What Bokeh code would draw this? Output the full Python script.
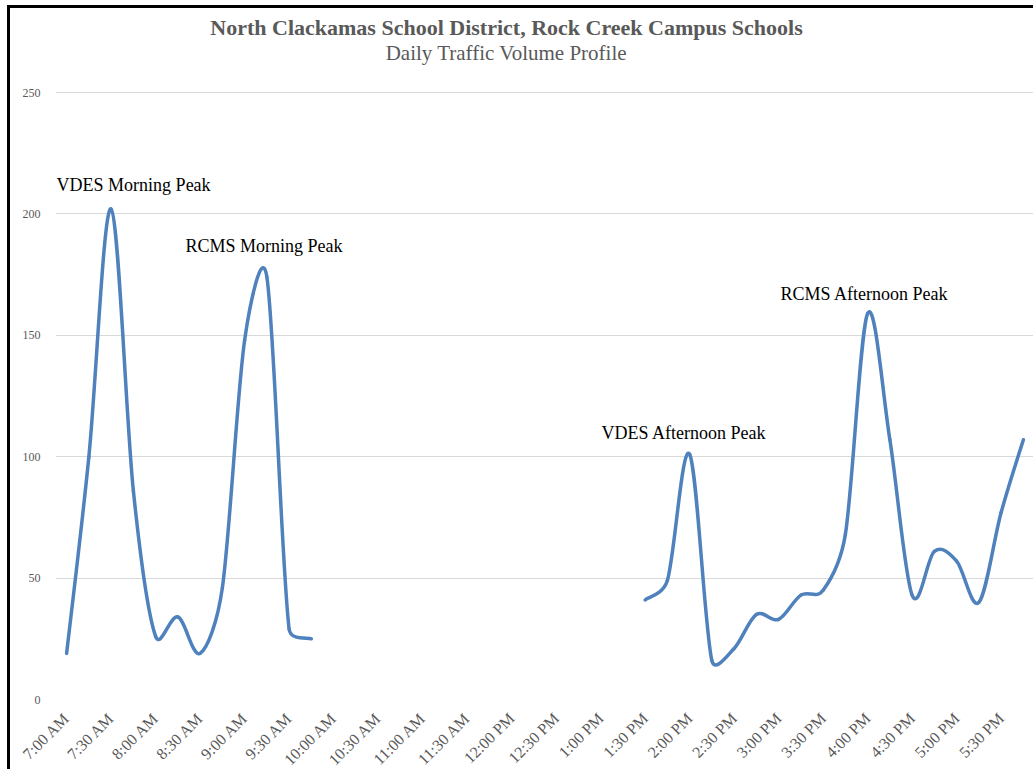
import math
from bokeh.plotting import figure
from bokeh.models import Range1d, FixedTicker, Label
from bokeh.embed import file_html
from bokeh.resources import INLINE

# ---------------- data ----------------
times = [
    "7:00 AM", "7:15 AM", "7:30 AM", "7:45 AM", "8:00 AM", "8:15 AM", "8:30 AM", "8:45 AM",
    "9:00 AM", "9:15 AM", "9:30 AM", "9:45 AM", "10:00 AM", "10:15 AM", "10:30 AM", "10:45 AM",
    "11:00 AM", "11:15 AM", "11:30 AM", "11:45 AM", "12:00 PM", "12:15 PM", "12:30 PM", "12:45 PM",
    "1:00 PM", "1:15 PM", "1:30 PM", "1:45 PM", "2:00 PM", "2:15 PM", "2:30 PM", "2:45 PM",
    "3:00 PM", "3:15 PM", "3:30 PM", "3:45 PM", "4:00 PM", "4:15 PM", "4:30 PM", "4:45 PM",
    "5:00 PM", "5:15 PM", "5:30 PM", "5:45 PM",
]
tick_labels = [
    "7:00 AM", "7:30 AM", "8:00 AM", "8:30 AM", "9:00 AM", "9:30 AM", "10:00 AM", "10:30 AM",
    "11:00 AM", "11:30 AM", "12:00 PM", "12:30 PM", "1:00 PM", "1:30 PM", "2:00 PM", "2:30 PM",
    "3:00 PM", "3:30 PM", "4:00 PM", "4:30 PM", "5:00 PM", "5:30 PM",
]
morning_start = "7:00 AM"
morning_volume = [19, 100, 202, 86, 26, 34, 19, 46, 148, 174, 29, 25]
afternoon_start = "1:30 PM"
afternoon_volume = [41, 49, 101, 16, 21, 35, 33, 43, 45, 68, 159, 107, 43, 61, 57, 40, 77, 107]
y_ticks = [0, 50, 100, 150, 200, 250]

title_text = "North Clackamas School District, Rock Creek Campus Schools"
subtitle_text = "Daily Traffic Volume Profile"
peak_labels = ["VDES Morning Peak", "RCMS Morning Peak", "VDES Afternoon Peak", "RCMS Afternoon Peak"]

# ---------------- layout constants ----------------
FRAME_W, FRAME_H = 978, 691
LEFT = 45
X0, X1 = -0.5, 43.455
Y0, Y1 = 0, 284.6
PX = FRAME_W / (X1 - X0)      # pixels per x unit
PY = FRAME_H / (Y1 - Y0)      # pixels per y unit

GRAY = "#595959"
SERIF = "Liberation Serif"
BLUE = "#4f81bd"


def excel_smooth(xs, ys):
    """Bezier segments like Excel's smoothed line (computed in pixel space)."""
    n = len(xs)
    P = [(x * PX, y * PY) for x, y in zip(xs, ys)]
    dist = lambda a, b: math.hypot(a[0] - b[0], a[1] - b[1])
    out = dict(x0=[], y0=[], x1=[], y1=[], cx0=[], cy0=[], cx1=[], cy1=[])
    for i in range(n - 1):
        p0 = P[max(i - 1, 0)]
        p1 = P[i]
        p2 = P[i + 1]
        p3 = P[min(i + 2, n - 1)]
        d12 = dist(p1, p2)
        d02 = dist(p0, p2)
        d13 = dist(p1, p3)
        f0 = 1 / 6.0
        f1 = 1 / 6.0
        if d02 * f0 > d12 / 2 and d02 > 0:
            f0 = d12 / 2 / d02
        if d13 * f1 > d12 / 2 and d13 > 0:
            f1 = d12 / 2 / d13
        c0 = (p1[0] + f0 * (p2[0] - p0[0]), p1[1] + f0 * (p2[1] - p0[1]))
        c1 = (p2[0] - f1 * (p3[0] - p1[0]), p2[1] - f1 * (p3[1] - p1[1]))
        out["x0"].append(p1[0] / PX); out["y0"].append(p1[1] / PY)
        out["x1"].append(p2[0] / PX); out["y1"].append(p2[1] / PY)
        out["cx0"].append(c0[0] / PX); out["cy0"].append(c0[1] / PY)
        out["cx1"].append(c1[0] / PX); out["cy1"].append(c1[1] / PY)
    return out


p = figure(frame_width=FRAME_W, frame_height=FRAME_H, output_backend="svg", toolbar_location=None,
           x_range=Range1d(X0, X1), y_range=Range1d(Y0, Y1),
           min_border_left=LEFT, min_border_right=0, min_border_top=0, min_border_bottom=0,
           background_fill_color="white", border_fill_color="white")
p.outline_line_color = None

for start, vals in ((morning_start, morning_volume), (afternoon_start, afternoon_volume)):
    i0 = times.index(start)
    xs = list(range(i0, i0 + len(vals)))
    seg = excel_smooth(xs, vals)
    p.bezier(x0=seg["x0"], y0=seg["y0"], x1=seg["x1"], y1=seg["y1"],
             cx0=seg["cx0"], cy0=seg["cy0"], cx1=seg["cx1"], cy1=seg["cy1"],
             line_color=BLUE, line_width=3.5, line_cap="round")

# axes
tick_idx = [times.index(t) for t in tick_labels]
p.xaxis.ticker = FixedTicker(ticks=tick_idx)
p.xaxis.major_label_overrides = {i: t for i, t in zip(tick_idx, tick_labels)}
p.xaxis.major_label_orientation = 0.785398
p.xaxis.axis_line_color = None
p.xaxis.major_tick_line_color = None
p.xaxis.minor_tick_line_color = None
p.xaxis.major_tick_out = 0
p.xaxis.major_tick_in = 0
p.xaxis.major_label_text_font = SERIF
p.xaxis.major_label_text_font_size = "16px"
p.xaxis.major_label_text_color = GRAY
p.xaxis.major_label_standoff = 16

p.yaxis.ticker = FixedTicker(ticks=y_ticks)
p.yaxis.axis_line_color = None
p.yaxis.major_tick_line_color = None
p.yaxis.minor_tick_line_color = None
p.yaxis.major_tick_out = 0
p.yaxis.major_tick_in = 0
p.yaxis.major_label_text_font = SERIF
p.yaxis.major_label_text_font_size = "12px"
p.yaxis.major_label_text_color = GRAY
p.yaxis.major_label_standoff = 15

p.xgrid.grid_line_color = None
p.ygrid.ticker = FixedTicker(ticks=y_ticks)
p.ygrid.grid_line_color = "#d9d9d9"
p.ygrid.grid_line_width = 1

# titles
p.add_layout(Label(x=19.77, y=276.8, text=title_text, text_font=SERIF, text_font_size="22px",
                   text_font_style="bold", text_color=GRAY, text_align="center", text_baseline="middle"))
p.add_layout(Label(x=19.77, y=266.3, text=subtitle_text, text_font=SERIF, text_font_size="21px",
                   text_color=GRAY, text_align="center", text_baseline="middle"))

# peak annotations
label_pos = [(-0.45, 211.7), (5.34, 186.6), (24.04, 109.6), (32.08, 167.2)]
for txt, (lx, ly) in zip(peak_labels, label_pos):
    p.add_layout(Label(x=lx, y=ly, text=txt, text_font=SERIF, text_font_size="18px",
                       text_color="black", text_align="left", text_baseline="middle"))

p.styles = {"margin-left": "7px", "margin-top": "5px",
            "border-top": "3px solid black", "border-left": "3px solid black"}

open("out.html", "w").write(file_html(p, INLINE))
